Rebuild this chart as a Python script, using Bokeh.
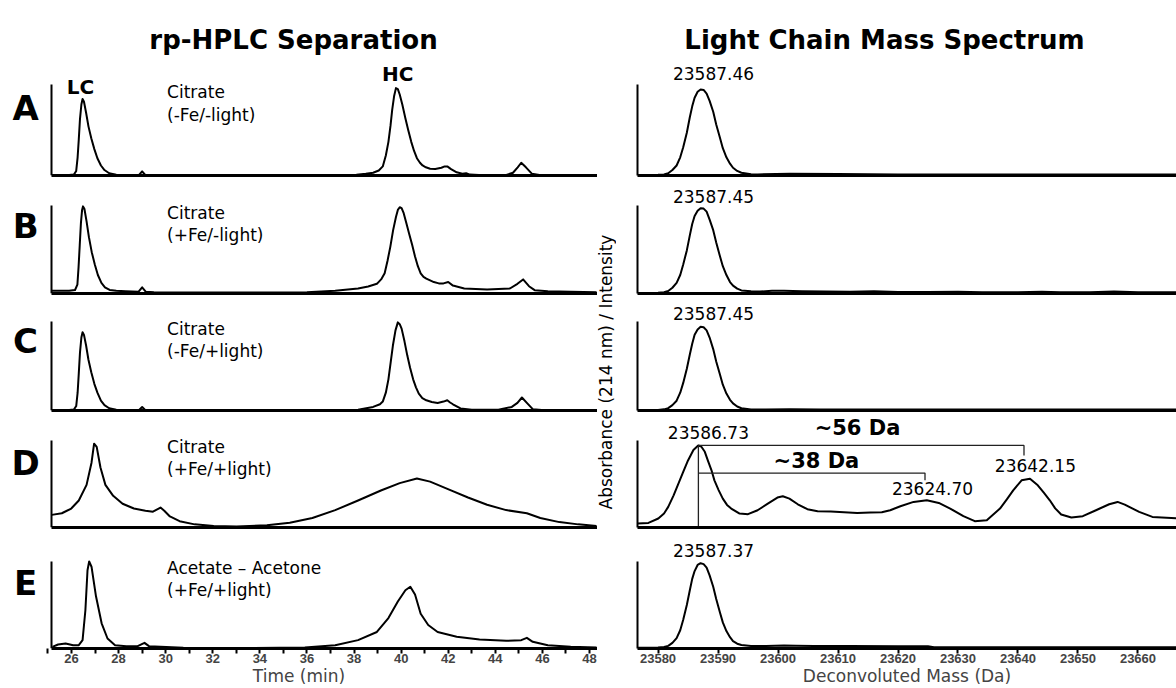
import math
from bokeh.plotting import figure
from bokeh.layouts import column, row
from bokeh.models import Range1d, Label, FixedTicker, NumeralTickFormatter
from bokeh.embed import file_html
from bokeh.resources import INLINE

# ------------------------------------------------------------------ data
panel_letters = ["A", "B", "C", "D", "E"]
condition_line1 = ["Citrate", "Citrate", "Citrate", "Citrate", "Acetate \u2013 Acetone"]
condition_line2 = ["(-Fe/-light)", "(+Fe/-light)", "(-Fe/+light)", "(+Fe/+light)", "(+Fe/+light)"]
time_ticks = [26, 28, 30, 32, 34, 36, 38, 40, 42, 44, 46, 48]
time_minor_ticks = [25, 27, 29, 31, 33, 35, 37, 39, 41, 43, 45, 47]
mass_ticks = [23580, 23590, 23600, 23610, 23620, 23630, 23640, 23650, 23660]

hplc_t_a = [25.16, 25.6, 25.9, 26.1, 26.2, 26.26, 26.31, 26.36, 26.42, 26.47, 26.53, 26.62, 26.72, 26.84, 26.97,
            27.1, 27.25, 27.4, 27.6, 27.9, 28.5, 28.85, 29.0, 29.15, 29.5, 33.0, 36.0, 37.6, 38.1, 38.5, 38.81,
            39.05, 39.22, 39.35, 39.46, 39.55, 39.62, 39.7, 39.78, 39.86, 39.94, 40.05, 40.18, 40.3, 40.43, 40.55,
            40.67, 40.8, 40.91, 41.05, 41.23, 41.45, 41.71, 41.85, 41.96, 42.12, 42.36, 42.6, 42.76, 42.92, 43.5,
            44.4, 44.75, 44.95, 45.1, 45.3, 45.55, 46.0, 47.0, 48.3]
hplc_y_a = [0.0, 0.0, 0.005, 0.01, 0.05, 0.2, 0.4, 0.62, 0.78, 0.84, 0.81, 0.69, 0.54, 0.41, 0.29,
            0.19, 0.11, 0.06, 0.025, 0.008, 0.0, 0.0, 0.045, 0.0, 0.0, 0.0, 0.0, 0.0, 0.008, 0.018, 0.03,
            0.055, 0.1, 0.22, 0.37, 0.55, 0.72, 0.87, 0.96, 0.95, 0.89, 0.78, 0.63, 0.5, 0.37, 0.27,
            0.19, 0.14, 0.11, 0.09, 0.075, 0.072, 0.085, 0.1, 0.1, 0.07, 0.035, 0.02, 0.025, 0.01, 0.002,
            0.0, 0.03, 0.09, 0.14, 0.09, 0.02, 0.0, 0.0, 0.0]

hplc_t_b = [25.16, 25.5, 25.9, 26.15, 26.25, 26.3, 26.35, 26.4, 26.45, 26.49, 26.55, 26.64, 26.74, 26.86, 26.99,
            27.12, 27.27, 27.42, 27.62, 27.9, 28.3, 28.85, 29.0, 29.15, 29.5, 31.0, 33.0, 36.0, 37.2, 38.17, 38.6,
            38.97, 39.15, 39.3, 39.42, 39.54, 39.66, 39.78, 39.86, 39.94, 40.02, 40.1, 40.22, 40.34, 40.47, 40.59,
            40.71, 40.83, 40.95, 41.07, 41.39, 41.6, 41.8, 42.0, 42.2, 42.68, 43.65, 44.62, 44.94, 45.18, 45.43,
            45.67, 46.23, 47.2, 48.3]
hplc_y_b = [0.03, 0.03, 0.03, 0.04, 0.1, 0.3, 0.55, 0.8, 0.95, 0.99, 0.96, 0.82, 0.64, 0.47, 0.33,
            0.21, 0.12, 0.07, 0.04, 0.03, 0.025, 0.02, 0.07, 0.02, 0.015, 0.01, 0.01, 0.015, 0.03, 0.057, 0.08,
            0.11, 0.16, 0.23, 0.37, 0.53, 0.72, 0.87, 0.95, 0.98, 0.97, 0.92, 0.8, 0.68, 0.55, 0.42,
            0.31, 0.23, 0.19, 0.17, 0.13, 0.115, 0.115, 0.13, 0.09, 0.057, 0.045, 0.057, 0.11, 0.16, 0.083,
            0.038, 0.026, 0.019, 0.015]

hplc_t_c = [25.16, 25.6, 25.9, 26.1, 26.2, 26.26, 26.31, 26.36, 26.42, 26.47, 26.53, 26.62, 26.72, 26.84, 26.97,
            27.1, 27.25, 27.4, 27.6, 27.9, 28.5, 28.85, 29.0, 29.15, 29.5, 33.0, 36.0, 37.6, 38.17, 38.81, 39.1,
            39.22, 39.35, 39.46, 39.56, 39.65, 39.76, 39.86, 39.94, 40.02, 40.14, 40.26, 40.38, 40.51, 40.63,
            40.75, 40.9, 41.07, 41.3, 41.55, 41.8, 41.96, 42.08, 42.2, 42.52, 43.0, 44.13, 44.7, 44.94, 45.13,
            45.34, 45.59, 46.23, 48.3]
hplc_y_c = [0.0, 0.0, 0.005, 0.01, 0.05, 0.2, 0.42, 0.65, 0.82, 0.88, 0.85, 0.73, 0.57, 0.43, 0.3,
            0.2, 0.11, 0.06, 0.025, 0.008, 0.0, 0.0, 0.04, 0.0, 0.0, 0.003, 0.0, 0.004, 0.008, 0.04, 0.07,
            0.1, 0.2, 0.35, 0.55, 0.73, 0.9, 0.99, 0.97, 0.92, 0.78, 0.62, 0.48, 0.35, 0.26,
            0.19, 0.14, 0.115, 0.095, 0.085, 0.1, 0.115, 0.09, 0.07, 0.023, 0.008, 0.008, 0.04, 0.085, 0.146,
            0.085, 0.015, 0.0, 0.0]

hplc_t_d = [25.16, 25.59, 25.99, 26.31, 26.64, 26.85, 26.96, 27.07, 27.23, 27.44, 27.77, 28.17, 28.65, 29.14,
            29.46, 29.78, 29.94, 30.18, 30.59, 31.23, 32.04, 33.01, 34.3, 35.27, 36.23, 37.2, 38.17, 39.14,
            39.94, 40.67, 41.23, 42.04, 42.84, 43.65, 44.46, 45.34, 45.91, 46.72, 47.52, 48.3]
hplc_y_d = [0.145, 0.164, 0.218, 0.31, 0.49, 0.745, 0.964, 0.927, 0.69, 0.49, 0.364, 0.273, 0.218, 0.193,
            0.182, 0.229, 0.193, 0.127, 0.073, 0.036, 0.018, 0.011, 0.025, 0.055, 0.109, 0.2, 0.31, 0.425,
            0.51, 0.564, 0.527, 0.436, 0.345, 0.262, 0.2, 0.164, 0.109, 0.062, 0.036, 0.018]

hplc_t_e = [25.19, 25.43, 25.75, 26.07, 26.31, 26.47, 26.59, 26.68, 26.75, 26.85, 27.04, 27.28, 27.53, 27.85,
            28.33, 28.81, 29.1, 29.29, 29.78, 30.75, 32.68, 35.91, 37.2, 38.17, 38.97, 39.46, 39.86, 40.18,
            40.39, 40.59, 40.83, 41.15, 41.55, 42.36, 43.33, 44.46, 45.1, 45.34, 45.59, 46.23, 47.2, 48.3]
hplc_y_e = [0.019, 0.046, 0.058, 0.038, 0.038, 0.096, 0.44, 0.9, 1.0, 0.94, 0.6, 0.29, 0.115, 0.038,
            0.027, 0.027, 0.065, 0.027, 0.019, 0.008, 0.004, 0.012, 0.038, 0.096, 0.19, 0.35, 0.54, 0.67,
            0.71, 0.62, 0.4, 0.27, 0.19, 0.135, 0.104, 0.088, 0.096, 0.123, 0.077, 0.038, 0.019, 0.012]

ms_m_a = [23576.6, 23578.5, 23580.0, 23581.0, 23581.7, 23582.4, 23583.1, 23583.7, 23584.2, 23584.8, 23585.3,
          23585.7, 23586.1, 23586.6, 23587.1, 23587.6, 23588.1, 23588.6, 23589.2, 23589.7, 23590.3, 23590.8,
          23591.4, 23592.0, 23592.5, 23593.2, 23593.9, 23595.5, 23596.6, 23602, 23610, 23620, 23630, 23645,
          23655, 23666.4]
ms_i_a = [0.005, 0.005, 0.007, 0.012, 0.025, 0.06, 0.11, 0.2, 0.31, 0.47, 0.64,
          0.76, 0.855, 0.92, 0.945, 0.94, 0.9, 0.82, 0.7, 0.56, 0.42, 0.3,
          0.2, 0.13, 0.085, 0.05, 0.03, 0.015, 0.012, 0.018, 0.016, 0.012, 0.012, 0.012,
          0.01, 0.01]

ms_m_b = [23576.6, 23578.5, 23580.0, 23581.0, 23581.7, 23582.4, 23583.1, 23583.7, 23584.2, 23584.8, 23585.3,
          23585.7, 23586.1, 23586.6, 23587.1, 23587.6, 23588.1, 23588.6, 23589.2, 23589.7, 23590.3, 23590.8,
          23591.4, 23592.0, 23592.5, 23593.2, 23593.9, 23595.5, 23597, 23599, 23601, 23604, 23608, 23612,
          23616, 23620, 23625, 23630, 23634, 23640, 23644, 23647, 23652, 23656, 23660, 23666.4]
ms_i_b = [0.005, 0.006, 0.008, 0.014, 0.028, 0.065, 0.12, 0.21, 0.33, 0.49, 0.66,
          0.79, 0.88, 0.94, 0.97, 0.965, 0.93, 0.84, 0.72, 0.58, 0.43, 0.31,
          0.21, 0.13, 0.09, 0.055, 0.035, 0.025, 0.022, 0.03, 0.03, 0.025, 0.022, 0.02,
          0.025, 0.018, 0.018, 0.02, 0.015, 0.015, 0.02, 0.015, 0.015, 0.022, 0.015, 0.015]

ms_m_c = [23576.6, 23578.5, 23580.0, 23581.0, 23581.7, 23582.4, 23583.1, 23583.7, 23584.2, 23584.8, 23585.3,
          23585.7, 23586.1, 23586.6, 23587.1, 23587.6, 23588.1, 23588.6, 23589.2, 23589.7, 23590.3, 23590.8,
          23591.4, 23592.0, 23592.5, 23593.2, 23593.9, 23595.5, 23598, 23602, 23607, 23612, 23618, 23625,
          23630, 23640, 23650, 23666.4]
ms_i_c = [0.004, 0.005, 0.007, 0.013, 0.026, 0.06, 0.11, 0.2, 0.31, 0.47, 0.63,
          0.75, 0.85, 0.91, 0.94, 0.935, 0.9, 0.82, 0.69, 0.55, 0.41, 0.29,
          0.19, 0.12, 0.08, 0.045, 0.025, 0.012, 0.012, 0.015, 0.012, 0.012, 0.01, 0.012,
          0.01, 0.012, 0.01, 0.01]

ms_m_d = [23576.6, 23578.4, 23580.05, 23581.0, 23581.7, 23582.6, 23583.4, 23584.2, 23585.0, 23585.9, 23586.7,
          23587.2, 23587.8, 23588.3, 23588.9, 23589.4, 23590.1, 23590.8, 23591.5, 23592.2, 23593.6, 23595.0,
          23596.6, 23598.3, 23599.9, 23600.8, 23601.9, 23603.3, 23604.9, 23606.6, 23608.8, 23611.0, 23613.2,
          23615.4, 23617.3, 23618.7, 23620.4, 23622.6, 23624.8, 23626.8, 23628.7, 23630.9, 23632.8, 23634.8,
          23637.0, 23638.2, 23639.2, 23640.6, 23642.0, 23643.3, 23644.3, 23645.3, 23646.2, 23647.2, 23648.9,
          23650.8, 23653.0, 23655.2, 23656.6, 23657.8, 23660.2, 23662.4, 23666.4]
ms_i_d = [0.046, 0.053, 0.103, 0.16, 0.237, 0.37, 0.504, 0.64, 0.771, 0.89, 0.943,
          0.931, 0.87, 0.771, 0.66, 0.542, 0.43, 0.332, 0.26, 0.218, 0.16, 0.153,
          0.198, 0.275, 0.344, 0.359, 0.332, 0.267, 0.21, 0.187, 0.183, 0.176, 0.168,
          0.172, 0.175, 0.198, 0.244, 0.294, 0.313, 0.282, 0.218, 0.13, 0.073, 0.084,
          0.218, 0.33, 0.427, 0.542, 0.561, 0.485, 0.4, 0.313, 0.22, 0.149, 0.115,
          0.13, 0.198, 0.267, 0.294, 0.263, 0.179, 0.122, 0.105]

ms_m_e = [23576.6, 23578.5, 23580.0, 23581.0, 23581.7, 23582.4, 23583.1, 23583.7, 23584.2, 23584.8, 23585.3,
          23585.7, 23586.1, 23586.6, 23587.1, 23587.6, 23588.1, 23588.6, 23589.2, 23589.7, 23590.3, 23590.8,
          23591.4, 23592.0, 23592.5, 23593.2, 23593.9, 23595.5, 23598, 23601, 23603, 23606, 23612, 23620,
          23625, 23626, 23640, 23655, 23666.4]
ms_i_e = [0.01, 0.01, 0.012, 0.018, 0.03, 0.065, 0.12, 0.21, 0.33, 0.5, 0.67,
          0.8, 0.89, 0.96, 0.98, 0.97, 0.93, 0.84, 0.71, 0.57, 0.42, 0.3,
          0.2, 0.13, 0.085, 0.055, 0.04, 0.03, 0.028, 0.035, 0.032, 0.028, 0.028, 0.026,
          0.025, 0.015, 0.015, 0.013, 0.013]

ms_peak_labels = ["23587.46", "23587.45", "23587.45", "23586.73", "23587.37"]
d_label_masses = ["23624.70", "23642.15"]
shift_labels = ["~56 Da", "~38 Da"]
# D-panel bracket annotations (mass, relative intensity)
bracket56_m = [23586.73, 23641.0, 23641.0]
bracket56_i = [0.943, 0.943, 0.828]
bracket38_m = [23586.73, 23624.5, 23624.5]
bracket38_i = [0.626, 0.626, 0.542]
vline_m = [23586.73, 23586.73]
vline_i = [0.0, 0.943]

hplc_t = [hplc_t_a, hplc_t_b, hplc_t_c, hplc_t_d, hplc_t_e]
hplc_y = [hplc_y_a, hplc_y_b, hplc_y_c, hplc_y_d, hplc_y_e]
ms_m = [ms_m_a, ms_m_b, ms_m_c, ms_m_d, ms_m_e]
ms_i = [ms_i_a, ms_i_b, ms_i_c, ms_i_d, ms_i_e]

# ------------------------------------------------------------------ layout / style
FONT = "DejaVu Sans"
TICK_FONT = "Liberation Sans"
HEADER_H = 55
LEFT_W, MID_W, RIGHT_W = 597, 19, 560
RIGHT_BL = 21
PANEL_FIG_H = [122, 118, 117, 117, 159]
PANEL_AXIS_H = [91, 88, 89, 87, 87]
PANEL_BOTTOM = [2, 2, 2, 2, 40]
LETTER_Y = [0.74, 0.77, 0.78, 0.74, 0.75]
PEAK_LABEL_Y = [1.12, 1.10, 1.09, 1.09, 1.13]

# left time axis: 26 min at x=71 px, 48 min at x=589 px; visible axis from 25.154 to 48.35 min
px_per_min = (589 - 71) / 22.0
left_axis_start, left_axis_end = 25.154, 48.35
left_x = Range1d(26 - 71 / px_per_min, 26 + (LEFT_W - 71) / px_per_min)
right_x = Range1d(23576.58, 23666.42)


def add_text(p, x, y, text, size, bold=False, align="center", angle=0.0):
    p.add_layout(Label(x=x, y=y, text=text, text_font=FONT, text_font_size=f"{size}px",
                       text_font_style="bold" if bold else "normal", text_align=align,
                       text_baseline="middle", text_color="black", angle=angle))


def make_panel(xr, width, bl, i, left_side):
    fig_h, axis_h, bottom = PANEL_FIG_H[i], PANEL_AXIS_H[i], PANEL_BOTTOM[i]
    frame_h = fig_h - bottom
    p = figure(width=width, height=fig_h, x_range=xr, y_range=Range1d(0, frame_h / axis_h),
               toolbar_location=None, output_backend="svg",
               min_border_left=bl, min_border_right=0, min_border_top=0, min_border_bottom=bottom)
    p.outline_line_color = None
    p.xgrid.visible = False
    p.ygrid.visible = False
    p.background_fill_color = "white"
    p.border_fill_color = "white"
    ya = p.yaxis[0]
    ya.ticker = FixedTicker(ticks=[])
    ya.bounds = (0, 1)
    ya.axis_line_width = 2
    ya.axis_line_color = "black"
    ya.major_tick_line_color = None
    ya.minor_tick_line_color = None
    ya.major_label_text_font_size = "0px"
    ya.major_label_standoff = 0
    xa = p.xaxis[0]
    xa.axis_line_width = 3
    xa.axis_line_color = "black"
    if left_side:
        ya.fixed_location = left_axis_start
        xa.bounds = (left_axis_start, left_axis_end)
    if i < 4:
        xa.ticker = FixedTicker(ticks=[])
        xa.major_tick_line_color = None
        xa.minor_tick_line_color = None
        xa.major_label_text_font_size = "0px"
        xa.major_label_standoff = 0
    else:
        xa.major_tick_out = 5
        xa.major_tick_in = 0
        xa.minor_tick_out = 5
        xa.minor_tick_in = 0
        xa.major_tick_line_width = 2
        xa.minor_tick_line_width = 2
        xa.major_label_text_font = TICK_FONT
        xa.major_label_text_font_size = "13px"
        xa.major_label_text_font_style = "bold"
        xa.major_label_standoff = 0
        xa.formatter = NumeralTickFormatter(format="0")
        xa.axis_label_text_font = FONT
        xa.axis_label_text_font_size = "17px"
        xa.axis_label_text_font_style = "normal"
        xa.axis_label_standoff = 0
    return p


def blank_fig(w, h, xr, yr):
    f = figure(width=w, height=h, x_range=xr, y_range=yr, toolbar_location=None, output_backend="svg",
               x_axis_location=None, y_axis_location=None,
               min_border=0, min_border_left=0, min_border_right=0, min_border_top=0, min_border_bottom=0)
    f.grid.visible = False
    f.outline_line_color = None
    return f


# ------------------------------------------------------------------ header
TOTAL_W = LEFT_W + MID_W + RIGHT_W
header = blank_fig(TOTAL_W, HEADER_H, Range1d(0, TOTAL_W), Range1d(0, HEADER_H))
add_text(header, 293, HEADER_H - 39, "rp-HPLC Separation", 26, bold=True)
add_text(header, 884, HEADER_H - 39, "Light Chain Mass Spectrum", 26, bold=True)

# ------------------------------------------------------------------ left column
left_figs = []
for i in range(5):
    p = make_panel(left_x, LEFT_W, 0, i, True)
    p.line(hplc_t[i], hplc_y[i], line_color="black", line_width=2, line_join="round")
    add_text(p, 24.05, LETTER_Y[i], panel_letters[i], 34, bold=True)
    add_text(p, 30.06, 0.92, condition_line1[i], 17, align="left")
    add_text(p, 30.06, 0.67, condition_line2[i], 17, align="left")
    if i == 0:
        add_text(p, 26.38, 0.97, "LC", 20, bold=True)
        add_text(p, 39.85, 1.11, "HC", 20, bold=True)
    if i == 4:
        p.xaxis[0].ticker = FixedTicker(ticks=time_ticks, minor_ticks=time_minor_ticks)
        p.xaxis[0].axis_label = "Time (min)"
    left_figs.append(p)

# ------------------------------------------------------------------ right column
right_figs = []
for i in range(5):
    p = make_panel(right_x, RIGHT_W, RIGHT_BL, i, False)
    p.line(ms_m[i], ms_i[i], line_color="black", line_width=2, line_join="round")
    if i == 3:
        p.line(vline_m, vline_i, line_color="#222222", line_width=1.3)
        p.line(bracket56_m, bracket56_i, line_color="#222222", line_width=1.3)
        p.line(bracket38_m, bracket38_i, line_color="#222222", line_width=1.3)
        add_text(p, 23588.4, PEAK_LABEL_Y[i], ms_peak_labels[i], 17)
        add_text(p, 23613.25, 1.14, shift_labels[0], 21, bold=True)
        add_text(p, 23606.4, 0.77, shift_labels[1], 21, bold=True)
        add_text(p, 23625.75, 0.45, d_label_masses[0], 17)
        add_text(p, 23642.9, 0.71, d_label_masses[1], 17)
    else:
        add_text(p, 23589.25, PEAK_LABEL_Y[i], ms_peak_labels[i], 17)
    if i == 4:
        p.xaxis[0].ticker = FixedTicker(ticks=mass_ticks, minor_ticks=[])
        p.xaxis[0].axis_label = "Deconvoluted Mass (Da)"
    right_figs.append(p)

# ------------------------------------------------------------------ shared y label
mid = blank_fig(MID_W, sum(PANEL_FIG_H), Range1d(0, 1), Range1d(0, 1))
add_text(mid, 0.45, 0.5, "Absorbance (214 nm) / Intensity", 17, angle=math.pi / 2)

layout = column(header, row(column(*left_figs, spacing=0), mid, column(*right_figs, spacing=0), spacing=0),
                spacing=0)

open("out.html", "w").write(file_html(layout, INLINE))
